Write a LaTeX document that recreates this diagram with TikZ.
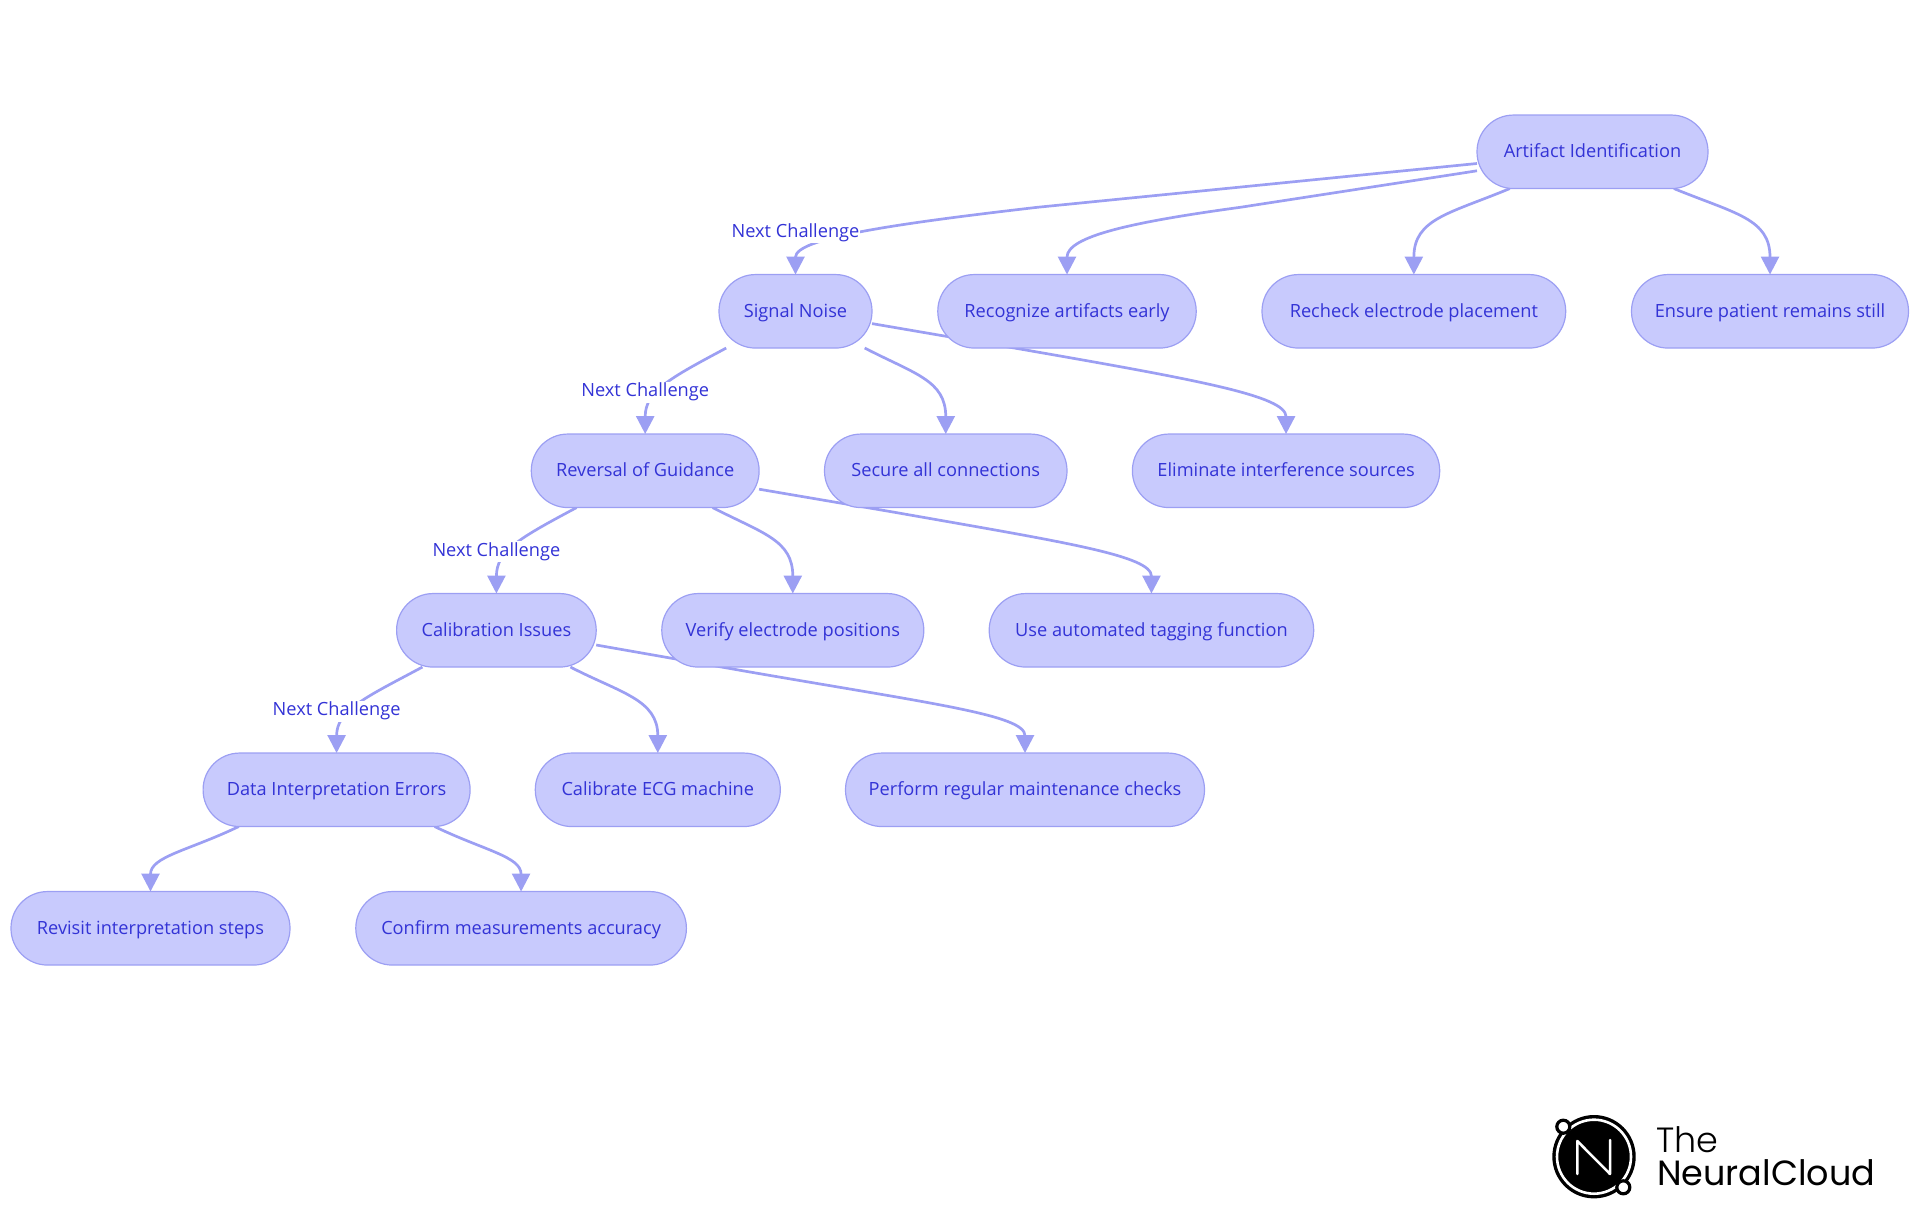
\documentclass[tikz,border=0pt]{standalone}
\usepackage{fontspec}
\usepackage{xcolor}
\usepackage{tikz}
\usetikzlibrary{arrows.meta,positioning,backgrounds}
\setmainfont{Open Sans}
\newfontfamily\logothin[UprightFont=* Light]{Poppins}
\newfontfamily\logofont{Poppins}
\definecolor{pillfill}{HTML}{C8CAFD}
\definecolor{pillline}{HTML}{9C9FF3}
\definecolor{pilltext}{HTML}{3333D6}

\begin{document}
\begin{tikzpicture}[
    x=1pt, y=1pt,
    pill/.style={rectangle, draw=pillline, line width=1.2pt, fill=pillfill, text=pilltext, rounded corners=36.5pt, minimum height=73.5pt, minimum width=#1, outer sep=0pt, text height=15pt, text depth=3pt, font=\fontsize{18.2}{21}\selectfont},
    hop/.style={fill=white, text=pilltext, inner sep=0pt, minimum height=21pt, minimum width=129pt, outer sep=0pt, font=\fontsize{18.2}{21}\selectfont},
    link/.style={draw=pillline, line width=2.7pt, -{Triangle[length=18pt,width=18pt]}}
]
\useasboundingbox (0,0) rectangle (1920,-1215);

\node (artifact) [pill=231pt] at (1592.5,-151.8) {Artifact Identification};
\node (signal) [pill=153pt, below=86pt of artifact, xshift=-797pt] {Signal Noise};
\node (recognize) [pill=258.4pt, right=65.8pt of signal] {Recognize artifacts early};
\node (recheck) [pill=303.7pt, right=65.8pt of recognize] {Recheck electrode placement};
\node (ensure) [pill=277pt, right=65.8pt of recheck] {Ensure patient remains still};
\node (reversal) [pill=227.8pt, below=86pt of signal, xshift=-150.3pt] {Reversal of Guidance};
\node (secure) [pill=242.5pt, right=65.4pt of reversal] {Secure all connections};
\node (eliminate) [pill=307.3pt, right=65.4pt of secure] {Eliminate interference sources};
\node (calibration) [pill=199.6pt, below=86pt of reversal, xshift=-148.8pt] {Calibration Issues};
\node (verify) [pill=262pt, right=65.6pt of calibration] {Verify electrode positions};
\node (tagging) [pill=324.5pt, right=65.4pt of verify] {Use automated tagging function};
\node (data) [pill=267pt, below=86pt of calibration, xshift=-159.8pt] {Data Interpretation Errors};
\node (calibrate) [pill=245pt, right=65.2pt of data] {Calibrate ECG machine};
\node (perform) [pill=359pt, right=65.2pt of calibrate] {Perform regular maintenance checks};
\node (revisit) [pill=279pt, below=65pt of data, xshift=-186.1pt] {Revisit interpretation steps};
\node (confirm) [pill=330.6pt, right=65.8pt of revisit] {Confirm measurements accuracy};

\node (hopa) [hop, above=31.5pt of signal] {Next Challenge};
\node (hopb) [hop, above=31.5pt of reversal] {Next Challenge};
\node (hopc) [hop, above=31.5pt of calibration] {Next Challenge};
\node (hopd) [hop, above=31.5pt of data] {Next Challenge};

\begin{scope}[on background layer]
\draw[link] ([yshift=-11.7pt]artifact.west) -- ++(-439.7,-43.8) .. controls +(-147,-17) and +(0,36) .. (signal.north);
\draw[link] ([yshift=-19pt]artifact.west) -- ++(-236.7,-36.5) .. controls +(-110,-15) and +(0,38) .. (recognize.north);
\draw[link] ([xshift=-82.7pt]artifact.south) .. controls +(-60,-25) and +(0,56) .. (recheck.north);
\draw[link] ([xshift=81.4pt]artifact.south) .. controls +(61,-25) and +(0,56) .. (ensure.north);

\draw[link] ([xshift=-69.3pt]signal.south) .. controls +(-56,-30) and +(0,43) .. (reversal.north);
\draw[link] ([xshift=69.2pt]signal.south) .. controls +(50.5,-26) and +(0,53.5) .. (secure.north);
\draw[link] ([yshift=-12.3pt]signal.east) -- ++(144,-24.7) .. controls +(184,-32) and +(0,38) .. (eliminate.north);

\draw[link] ([xshift=-68.6pt]reversal.south) .. controls +(-56,-30) and +(0,43) .. (calibration.north);
\draw[link] ([xshift=67.4pt]reversal.south) .. controls +(50.5,-26) and +(0,53.5) .. (verify.north);
\draw[link] ([yshift=-18.4pt]reversal.east) -- ++(135,-23) .. controls +(170,-30) and +(0,38) .. (tagging.north);

\draw[link] ([xshift=-74pt]calibration.south) .. controls +(-56,-30) and +(0,43) .. (data.north);
\draw[link] ([xshift=74pt]calibration.south) .. controls +(50.5,-26) and +(0,53.5) .. (calibrate.north);
\draw[link] ([yshift=-14.7pt]calibration.east) -- ++(148,-26) .. controls +(190,-33) and +(0,38) .. (perform.north);

\draw[link] ([xshift=-97.9pt]data.south) .. controls +(-50,-24) and +(0,35) .. (revisit.north);
\draw[link] ([xshift=98pt]data.south) .. controls +(50,-24) and +(0,35) .. (confirm.north);
\end{scope}

\fill[black] (1594,-1156.7) circle (41.7);
\draw[white, line width=2.6pt] (1594,-1156.7) circle (37);
\draw[white, line width=2.5pt, line cap=round, line join=round] (1577.3,-1174) -- (1577.3,-1141) -- (1610,-1174) -- (1610,-1140);
\filldraw[fill=white, draw=black, line width=3.2pt] (1563.3,-1126.7) circle (6.5);
\filldraw[fill=white, draw=black, line width=3.2pt] (1623.3,-1187.3) circle (6.5);
\node (logothe) [anchor=base west, inner sep=0pt, font=\logothin\fontsize{35}{40}\selectfont] at (1656,-1152.7) {The};
\node (logoname) [anchor=base west, inner sep=0pt, font=\logofont\fontsize{35}{40}\selectfont] at (1657,-1185) {NeuralCloud};
\end{tikzpicture}
\end{document}
